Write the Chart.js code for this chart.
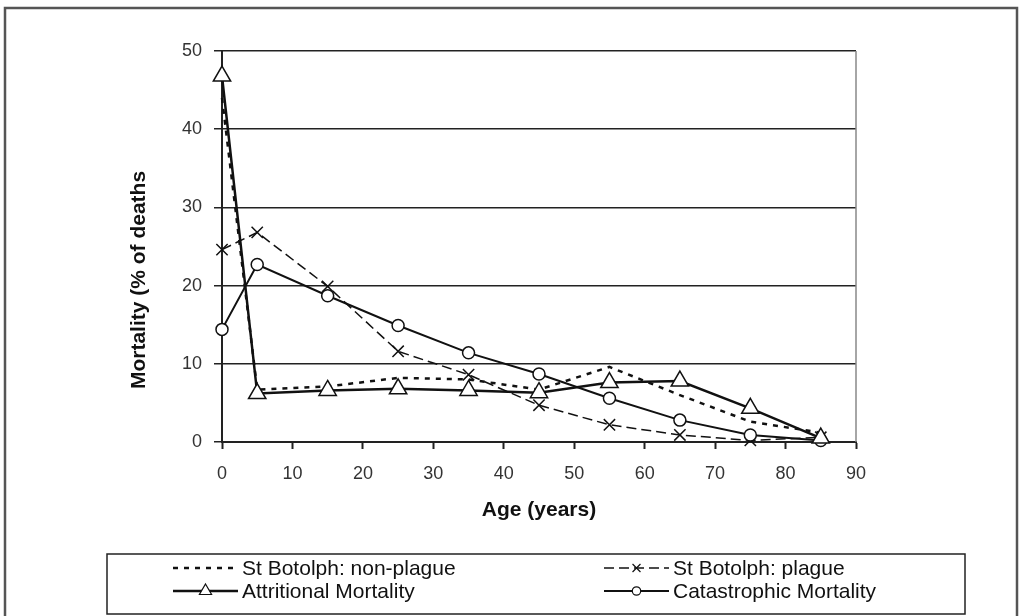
<!DOCTYPE html>
<html>
<head>
<meta charset="utf-8">
<script src="https://cdn.jsdelivr.net/npm/chart.js@4.4.1/dist/chart.umd.min.js"></script>
<style>
  body { margin: 0; background: #fff; }
  #wrap { width: 1021px; height: 616px; position: relative; }
</style>
</head>
<body>
<div id="wrap"><canvas id="chart"></canvas></div>
<script>
// ages at mid-point of each age band
const ages = [0, 5, 15, 25, 35, 45, 55, 65, 75, 85];
const nonPlague = [44, 6.7, 7.1, 8.2, 8.0, 6.7, 9.6, 6.0, 2.6, 1.2];
const plague = [24.6, 26.8, 19.9, 11.6, 8.6, 4.7, 2.2, 0.9, 0.2, 0.6];
const attritional = [46.8, 6.2, 6.6, 6.8, 6.6, 6.3, 7.6, 7.8, 4.3, 0.5];
const catastrophic = [14.4, 22.7, 18.7, 14.9, 11.4, 8.7, 5.6, 2.8, 0.9, 0.2];

const labelNames = [
  "St Botolph: non-plague",
  "St Botolph: plague",
  "Attritional Mortality",
  "Catastrophic Mortality",
];
const yTitle = "Mortality (% of deaths";
const xTitle = "Age (years)";

function points(values) {
  return ages.map(function (a, i) {
    return { x: a, y: values[i] };
  });
}

const ink = "#111";
const font = "'Liberation Sans', Arial, sans-serif";

const datasets = [
  {
    label: labelNames[0],
    data: points(nonPlague),
    borderColor: ink,
    borderWidth: 2.5,
    borderDash: [5, 6],
    pointRadius: 0,
    clip: false,
    order: 4,
  },
  {
    label: labelNames[1],
    data: points(plague),
    borderColor: ink,
    borderWidth: 1.5,
    borderDash: [10, 5],
    pointStyle: "crossRot",
    pointRadius: 8,
    pointBorderWidth: 1.5,
    pointBorderColor: ink,
    clip: false,
    order: 3,
  },
  {
    label: labelNames[2],
    data: points(attritional),
    borderColor: ink,
    borderWidth: 2.5,
    pointStyle: "triangle",
    pointRadius: 10,
    pointBorderWidth: 1.5,
    pointBorderColor: ink,
    pointBackgroundColor: "#fff",
    clip: false,
    order: 1,
  },
  {
    label: labelNames[3],
    data: points(catastrophic),
    borderColor: ink,
    borderWidth: 2,
    pointStyle: "circle",
    pointRadius: 6,
    pointBorderWidth: 1.5,
    pointBorderColor: ink,
    pointBackgroundColor: "#fff",
    clip: false,
    order: 2,
  },
];

// outer frame, right plot border, y title and the boxed two-column legend
const framePlugin = {
  id: "frame",
  beforeDraw(chart) {
    const ctx = chart.ctx;
    ctx.save();
    ctx.fillStyle = "#fff";
    ctx.fillRect(0, 0, chart.width, chart.height);
    ctx.strokeStyle = "#555";
    ctx.lineWidth = 2.5;
    ctx.strokeRect(5, 8, 1012, 630);
    ctx.restore();
  },
  afterDatasetsDraw(chart) {
    const ctx = chart.ctx;
    const a = chart.chartArea;
    ctx.save();
    ctx.strokeStyle = "#888";
    ctx.lineWidth = 1.5;
    ctx.beginPath();
    ctx.moveTo(a.right, a.top);
    ctx.lineTo(a.right, a.bottom);
    ctx.stroke();
    ctx.restore();
  },
  afterDraw(chart) {
    const ctx = chart.ctx;
    ctx.save();

    // y axis title (clipped in the original, sits a bit low)
    ctx.save();
    ctx.translate(139, 280);
    ctx.rotate(-Math.PI / 2);
    ctx.font = "bold 21px " + font;
    ctx.fillStyle = ink;
    ctx.textAlign = "center";
    ctx.textBaseline = "middle";
    ctx.fillText(yTitle, 0, 0);
    ctx.restore();

    ctx.strokeStyle = "#222";
    ctx.lineWidth = 1.5;
    ctx.strokeRect(107, 554, 858, 60);

    const cols = [173, 604];
    const rows = [568, 591];
    const sampleW = 65;
    ctx.font = "21px " + font;
    ctx.textBaseline = "middle";
    ctx.fillStyle = ink;
    datasets.forEach(function (ds, i) {
      const x = cols[i % 2];
      const y = rows[Math.floor(i / 2)];
      ctx.strokeStyle = ink;
      ctx.lineWidth = ds.borderWidth;
      ctx.setLineDash(ds.borderDash || []);
      ctx.beginPath();
      ctx.moveTo(x, y);
      ctx.lineTo(x + sampleW, y);
      ctx.stroke();
      ctx.setLineDash([]);
      if (ds.pointRadius > 0) {
        ctx.lineWidth = 1.2;
        ctx.fillStyle = "#fff";
        Chart.helpers.drawPoint(ctx, {
          pointStyle: ds.pointStyle,
          radius: ds.pointRadius * 0.7,
          rotation: 0,
          borderWidth: 1.2,
        }, x + sampleW / 2, y);
        ctx.fillStyle = ink;
      }
      ctx.fillText(ds.label, x + sampleW + 4, y + 1);
    });
    ctx.restore();
  },
};

new Chart(document.getElementById("chart"), {
  type: "line",
  data: { datasets: datasets },
  plugins: [framePlugin],
  options: {
    responsive: true,
    maintainAspectRatio: false,
    animation: false,
    layout: { padding: { left: 126, top: 51, right: 165, bottom: 93 } },
    plugins: {
      legend: { display: false },
      tooltip: { enabled: false },
    },
    elements: { line: { tension: 0 } },
    scales: {
      x: {
        type: "linear",
        min: 0,
        max: 90,
        afterFit(scale) {
          scale.height = 81;
        },
        ticks: {
          stepSize: 10,
          color: "#333",
          padding: 14,
          font: { family: font, size: 18 },
        },
        grid: {
          drawOnChartArea: false,
          drawTicks: true,
          tickLength: 7,
          tickWidth: 2,
          tickColor: "#222",
        },
        border: { color: "#222", width: 2 },
        title: {
          display: true,
          text: xTitle,
          color: "#111",
          padding: { top: 0, bottom: 0 },
          font: { family: font, size: 21, weight: "bold" },
        },
      },
      y: {
        min: 0,
        max: 50,
        afterFit(scale) {
          scale.width = 96;
        },
        ticks: {
          stepSize: 10,
          color: "#333",
          padding: 12,
          font: { family: font, size: 18 },
        },
        grid: {
          color: "#222",
          lineWidth: 1.5,
          drawTicks: true,
          tickLength: 8,
          tickColor: "#222",
        },
        border: { color: "#222", width: 2 },
        title: { display: false },
      },
    },
  },
});
</script>
</body>
</html>
